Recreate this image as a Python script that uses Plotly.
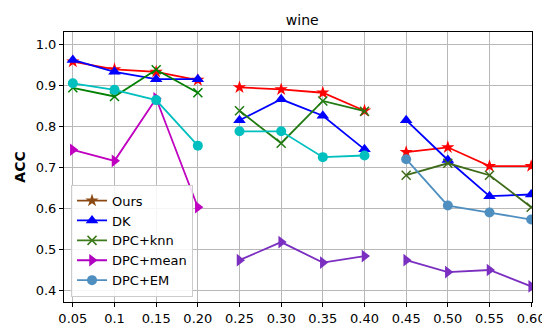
import plotly.graph_objects as go

x_vals = [0.05, 0.10, 0.15, 0.20, 0.25, 0.30, 0.35, 0.40, 0.45, 0.50, 0.55, 0.60]
x_ticktext = ["0.05", "0.1", "0.15", "0.20", "0.25", "0.30", "0.35", "0.40", "0.45", "0.50", "0.55", "0.60"]

ours = [0.958, 0.939, 0.933, 0.913, 0.895, 0.890, 0.882, 0.838, 0.737, 0.749, 0.703, 0.703]
dk = [0.962, 0.933, 0.915, 0.915, 0.815, 0.866, 0.826, 0.744, 0.815, 0.718, 0.630, 0.634]
dpc_knn = [0.894, 0.873, 0.938, 0.882, 0.838, 0.759, 0.862, 0.837, 0.681, 0.710, 0.681, 0.603]
dpc_mean = [0.743, 0.716, 0.868, 0.603, 0.474, 0.518, 0.468, 0.484, 0.474, 0.445, 0.450, 0.410]
dpc_em = [0.905, 0.889, 0.864, 0.753, 0.788, 0.788, 0.725, 0.729, 0.720, 0.607, 0.590, 0.573]

series_names = ["Ours", "DK", "DPC+knn", "DPC+mean", "DPC+EM"]
series_vals = [ours, dk, dpc_knn, dpc_mean, dpc_em]
symbols = ["star", "triangle-up", "x-thin", "triangle-right", "circle"]
sizes = [10, 11, 9, 11, 10]
# colours per segment group (0.05-0.20, 0.25-0.40, 0.45-0.60)
seg_colors = [
    ["#ff0000", "#ff0000", "#ff0000"],
    ["#0000ff", "#0000ff", "#0000ff"],
    ["#008000", "#1f7a10", "#3d6b1a"],
    ["#c000c0", "#7b2fc0", "#7b2fc0"],
    ["#00bfbf", "#00bfbf", "#4f8fc0"],
]
legend_colors = ["#8b4a14", "#0000ff", "#3d7a1a", "#b000c0", "#4f8fc0"]
groups = [(0, 4), (4, 8), (8, 12)]

fig = go.Figure()
for i, name in enumerate(series_names):
    for g, (a, b) in enumerate(groups):
        c = seg_colors[i][g]
        mk = dict(symbol=symbols[i], size=sizes[i], color=c)
        if symbols[i] == "x-thin":
            mk["line"] = dict(color=c, width=1.5)
        fig.add_trace(go.Scatter(
            x=x_vals[a:b], y=series_vals[i][a:b], mode="lines+markers",
            line=dict(color=c, width=1.8), marker=mk,
            showlegend=False, legendgroup=name, name=name))

for i, name in enumerate(series_names):
    c = legend_colors[i]
    mk = dict(symbol=symbols[i], size=sizes[i], color=c)
    if symbols[i] == "x-thin":
        mk["line"] = dict(color=c, width=1.5)
    fig.add_trace(go.Scatter(
        x=[None], y=[None], mode="lines+markers", name=name,
        line=dict(color=c, width=1.8), marker=mk,
        legendgroup=name, showlegend=True))

axis_common = dict(
    showline=True, linecolor="black", linewidth=1, mirror=True,
    showgrid=True, gridcolor="#b8b8b8", gridwidth=1,
    ticks="outside", ticklen=4, tickcolor="black",
    tickfont=dict(family="DejaVu Sans", size=13, color="black"),
    zeroline=False,
)

fig.update_layout(
    width=550, height=330,
    margin=dict(l=53, r=19, t=24, b=25),
    paper_bgcolor="white", plot_bgcolor="white",
    title=dict(text="wine", x=0.535, xanchor="center", y=0.963, yanchor="middle",
               font=dict(family="DejaVu Sans", size=14, color="black")),
    xaxis=dict(range=[0.0394, 0.601], tickvals=x_vals, ticktext=x_ticktext, **axis_common),
    yaxis=dict(range=[0.372, 1.03], tickvals=[0.4, 0.5, 0.6, 0.7, 0.8, 0.9, 1.0],
               ticktext=["0.4", "0.5", "0.6", "0.7", "0.8", "0.9", "1.0"],
               title=dict(text="<b>ACC</b>", font=dict(family="DejaVu Sans", size=14, color="black"),
                          standoff=6),
               **axis_common),
    legend=dict(x=0.015, y=0.02, xanchor="left", yanchor="bottom",
                bgcolor="rgba(255,255,255,0.85)", bordercolor="#cccccc", borderwidth=1,
                font=dict(family="DejaVu Sans", size=13, color="black"),
                tracegroupgap=0, itemwidth=30),
)

fig.write_html("out.html")
